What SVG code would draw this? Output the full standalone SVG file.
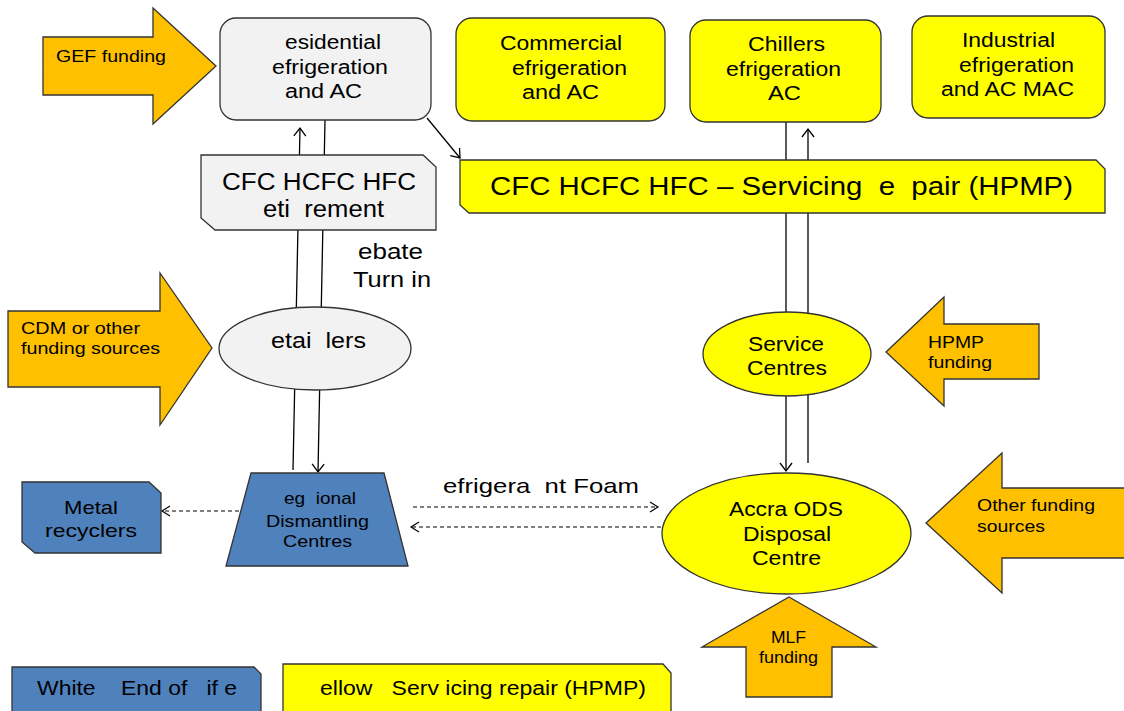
<svg xmlns="http://www.w3.org/2000/svg" width="1124" height="711" viewBox="0 0 1124 711">
<style>
text{font-family:"Liberation Sans",Arial,sans-serif;fill:#000}
.nd{stroke:#333;stroke-width:1.3}
.grey{fill:#f2f2f2}
.yel{fill:#ffff00}
.org{fill:#ffc000}
.blu{fill:#4f81bd}
.ln{stroke:#000;stroke-width:1.3;fill:none}
.dl{stroke:#000;stroke-width:1.2;fill:none;stroke-dasharray:4 3}
</style>
<defs>
<marker id="ah" markerUnits="userSpaceOnUse" markerWidth="12" markerHeight="14" refX="9" refY="6" orient="auto" overflow="visible">
<path d="M1,0 L9,6 L1,12" fill="none" stroke="#000" stroke-width="1.3"/>
</marker>
<marker id="ahs" markerUnits="userSpaceOnUse" markerWidth="12" markerHeight="12" refX="9" refY="5" orient="auto" overflow="visible">
<path d="M1,0 L9,5 L1,10" fill="none" stroke="#000" stroke-width="1.2"/>
</marker>
</defs>

<g id="connectors">
<line class="ln" x1="293" y1="470" x2="300" y2="128" marker-end="url(#ah)"/>
<line class="ln" x1="325" y1="120" x2="318" y2="472" marker-end="url(#ah)"/>
<line class="ln" x1="427" y1="118" x2="460" y2="158" marker-end="url(#ah)"/>
<line class="ln" x1="786" y1="122" x2="786" y2="471" marker-end="url(#ah)"/>
<line class="ln" x1="808" y1="463" x2="808" y2="129" marker-end="url(#ah)"/>
<line class="dl" x1="239" y1="511" x2="162" y2="511" marker-end="url(#ahs)"/>
<line class="dl" x1="413" y1="507" x2="658" y2="507" marker-end="url(#ahs)"/>
<line class="dl" x1="661" y1="527" x2="411" y2="527" marker-end="url(#ahs)"/>
<text x="443" y="493" font-size="21" textLength="196" lengthAdjust="spacingAndGlyphs" xml:space="preserve">efrigera  nt Foam</text>
<text x="358" y="259" font-size="22" textLength="65" lengthAdjust="spacingAndGlyphs">ebate</text>
<text x="353" y="287" font-size="22" textLength="78" lengthAdjust="spacingAndGlyphs">Turn in</text>
</g>

<g id="gef-funding">
<polygon class="nd org" points="43,37 153,37 153,8 216,66 153,124 153,95 43,95"/>
<text x="56" y="62" font-size="17" textLength="110" lengthAdjust="spacingAndGlyphs">GEF funding</text>
</g>

<g id="residential">
<rect class="nd grey" x="220" y="18" width="211" height="102" rx="16"/>
<text x="285" y="49" font-size="20" textLength="96" lengthAdjust="spacingAndGlyphs">esidential</text>
<text x="272" y="74" font-size="20" textLength="116" lengthAdjust="spacingAndGlyphs">efrigeration</text>
<text x="285" y="98" font-size="20" textLength="77" lengthAdjust="spacingAndGlyphs">and AC</text>
</g>

<g id="commercial">
<rect class="nd yel" x="456" y="18" width="209" height="103" rx="16"/>
<text x="500" y="50" font-size="20" textLength="122" lengthAdjust="spacingAndGlyphs">Commercial</text>
<text x="512" y="75" font-size="20" textLength="115" lengthAdjust="spacingAndGlyphs">efrigeration</text>
<text x="522" y="99" font-size="20" textLength="77" lengthAdjust="spacingAndGlyphs">and AC</text>
</g>

<g id="chillers">
<rect class="nd yel" x="690" y="20" width="191" height="102" rx="16"/>
<text x="748" y="51" font-size="20" textLength="77" lengthAdjust="spacingAndGlyphs">Chillers</text>
<text x="726" y="76" font-size="20" textLength="115" lengthAdjust="spacingAndGlyphs">efrigeration</text>
<text x="768" y="100" font-size="20" textLength="33" lengthAdjust="spacingAndGlyphs">AC</text>
</g>

<g id="industrial">
<rect class="nd yel" x="912" y="16" width="193" height="102" rx="16"/>
<text x="962" y="47" font-size="20" textLength="93" lengthAdjust="spacingAndGlyphs">Industrial</text>
<text x="959" y="72" font-size="20" textLength="115" lengthAdjust="spacingAndGlyphs">efrigeration</text>
<text x="941" y="96" font-size="20" textLength="133" lengthAdjust="spacingAndGlyphs">and AC MAC</text>
</g>

<g id="retirement">
<polygon class="nd grey" points="201,155 423,155 436,167 436,230 215,230 201,218"/>
<text x="222" y="190" font-size="23" textLength="194" lengthAdjust="spacingAndGlyphs">CFC HCFC HFC</text>
<text x="263" y="217" font-size="23" textLength="121" lengthAdjust="spacingAndGlyphs" xml:space="preserve">eti  rement</text>
</g>

<g id="servicing-repair">
<polygon class="nd yel" points="460,160 1096,160 1105,169 1105,213 469,213 460,205"/>
<text x="490" y="195" font-size="26" textLength="583" lengthAdjust="spacingAndGlyphs" xml:space="preserve">CFC HCFC HFC – Servicing  e  pair (HPMP)</text>
</g>

<g id="cdm-funding">
<polygon class="nd org" points="8,311 160,311 160,273 212,348 160,425 160,387 8,387"/>
<text x="21" y="334" font-size="17" textLength="119" lengthAdjust="spacingAndGlyphs">CDM or other</text>
<text x="21" y="354" font-size="17" textLength="139" lengthAdjust="spacingAndGlyphs">funding sources</text>
</g>

<g id="retailers">
<ellipse class="nd grey" cx="315" cy="348.5" rx="96" ry="41.5"/>
<text x="271" y="348" font-size="22" textLength="95" lengthAdjust="spacingAndGlyphs" xml:space="preserve">etai  lers</text>
</g>

<g id="service-centres">
<ellipse class="nd yel" cx="787" cy="354" rx="84" ry="42"/>
<text x="748" y="351" font-size="20" textLength="76" lengthAdjust="spacingAndGlyphs">Service</text>
<text x="747" y="375" font-size="20" textLength="80" lengthAdjust="spacingAndGlyphs">Centres</text>
</g>

<g id="hpmp-funding">
<polygon class="nd org" points="886,352 944,297 944,324 1039,324 1039,379 944,379 944,406"/>
<text x="928" y="348" font-size="17" textLength="56" lengthAdjust="spacingAndGlyphs">HPMP</text>
<text x="928" y="368" font-size="17" textLength="64" lengthAdjust="spacingAndGlyphs">funding</text>
</g>

<g id="metal-recyclers">
<polygon class="nd blu" points="22,482 149,482 161,493 161,553 35,553 22,542"/>
<text x="64" y="514" font-size="19" textLength="54" lengthAdjust="spacingAndGlyphs">Metal</text>
<text x="45" y="537" font-size="19" textLength="92" lengthAdjust="spacingAndGlyphs">recyclers</text>
</g>

<g id="dismantling-centres">
<polygon class="nd blu" points="251,473 384,473 408,566 226,566"/>
<text x="284" y="504" font-size="17" textLength="72" lengthAdjust="spacingAndGlyphs" xml:space="preserve">eg  ional</text>
<text x="266" y="527" font-size="17" textLength="103" lengthAdjust="spacingAndGlyphs">Dismantling</text>
<text x="283" y="547" font-size="17" textLength="69" lengthAdjust="spacingAndGlyphs">Centres</text>
</g>

<g id="accra-disposal">
<ellipse class="nd yel" cx="786.5" cy="533.5" rx="124.5" ry="60.5"/>
<text x="729" y="516" font-size="20" textLength="114" lengthAdjust="spacingAndGlyphs">Accra ODS</text>
<text x="743" y="541" font-size="20" textLength="88" lengthAdjust="spacingAndGlyphs">Disposal</text>
<text x="752" y="565" font-size="20" textLength="69" lengthAdjust="spacingAndGlyphs">Centre</text>
</g>

<g id="other-funding">
<polygon class="nd org" points="926,523 1002,453 1002,488 1130,488 1130,558 1002,558 1002,593"/>
<text x="977" y="511" font-size="17" textLength="118" lengthAdjust="spacingAndGlyphs">Other funding</text>
<text x="977" y="532" font-size="17" textLength="68" lengthAdjust="spacingAndGlyphs">sources</text>
</g>

<g id="mlf-funding">
<polygon class="nd org" points="789,597 876,647 832,647 832,697 746,697 746,647 702,647"/>
<text x="771" y="643" font-size="16" textLength="35" lengthAdjust="spacingAndGlyphs">MLF</text>
<text x="759" y="663" font-size="16" textLength="59" lengthAdjust="spacingAndGlyphs">funding</text>
</g>

<g id="legend-white">
<polygon class="nd blu" points="12,667 254,667 261,674 261,716 12,716"/>
<text x="37" y="695" font-size="20" textLength="200" lengthAdjust="spacingAndGlyphs" xml:space="preserve">White    End of   if e</text>
</g>

<g id="legend-yellow">
<polygon class="nd yel" points="283,664 663,664 671,673 671,716 283,716"/>
<text x="320" y="695" font-size="20" textLength="326" lengthAdjust="spacingAndGlyphs" xml:space="preserve">ellow   Serv icing repair (HPMP)</text>
</g>
</svg>
